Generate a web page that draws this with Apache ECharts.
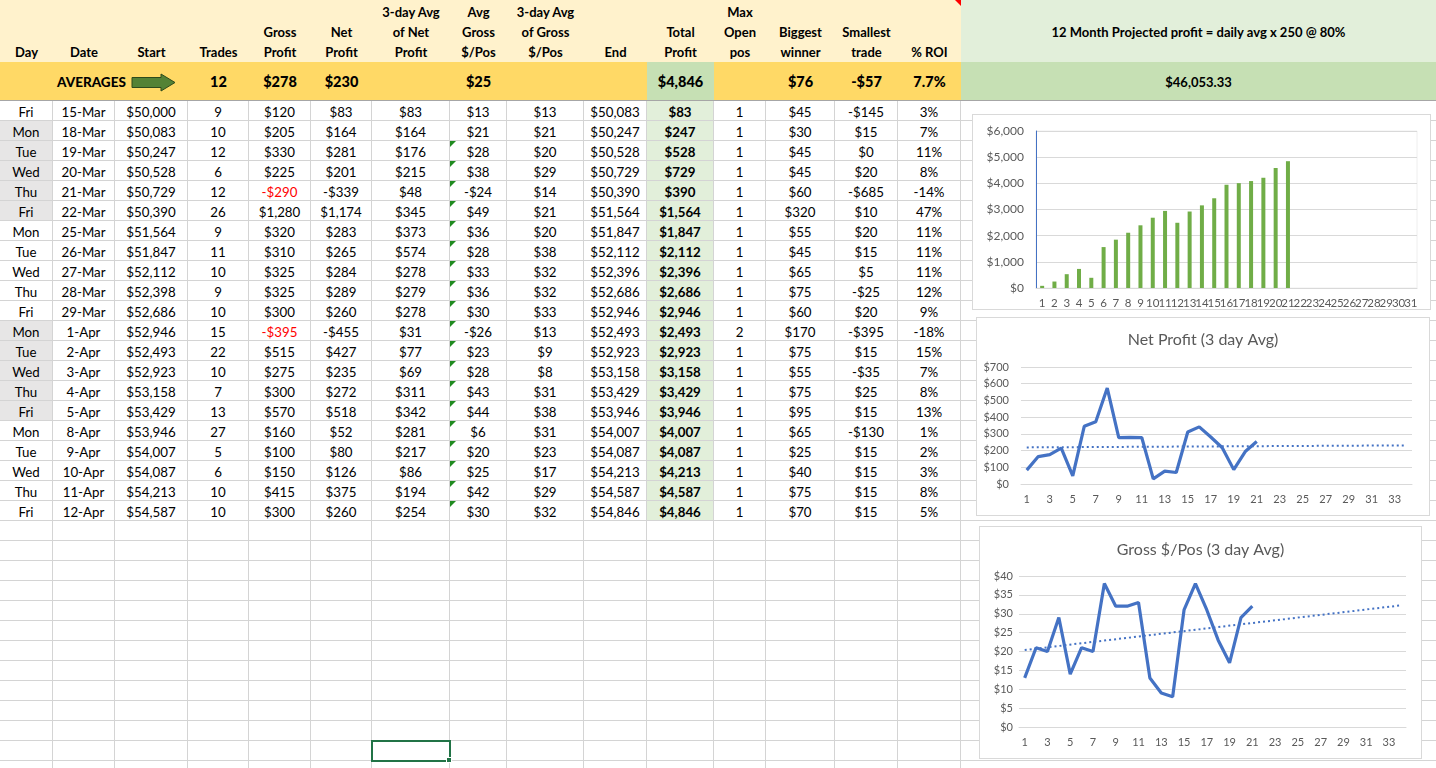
<!DOCTYPE html>
<html>
<head>
<meta charset="utf-8">
<title>Trading log</title>
<script src="https://cdn.jsdelivr.net/npm/echarts@6/dist/echarts.min.js"></script>
<style>
html, body { margin: 0; padding: 0; background: #fff; overflow: hidden; }
#sheet { position: relative; width: 1436px; height: 768px; font-family: Lato, "Open Sans", sans-serif; font-size: 13px; color: #000; }
.c { position: absolute; box-sizing: border-box; text-align: center; white-space: nowrap; }
.chart { position: absolute; box-sizing: border-box; border: 1px solid #d9d9d9; background: #fff; }
.tri { position: absolute; left: 0; top: 0; width: 0; height: 0; border-top: 6px solid #1f8a1f; border-right: 6px solid transparent; }
</style>
</head>
<body>
<div id="sheet">
	<div class="chart" id="chart_total" style="left:972px;top:114px;width:459px;height:196px;"></div>
	<div class="chart" id="chart_net" style="left:976px;top:317px;width:454px;height:199px;"></div>
	<div class="chart" id="chart_gross" style="left:979px;top:526px;width:443px;height:233px;"></div>
</div>
<script>
"use strict";

/*****Data start*****/
var days = ['Fri','Mon','Tue','Wed','Thu','Fri','Mon','Tue','Wed','Thu','Fri','Mon','Tue','Wed','Thu','Fri','Mon','Tue','Wed','Thu','Fri'];
var dates = ['15-Mar','18-Mar','19-Mar','20-Mar','21-Mar','22-Mar','25-Mar','26-Mar','27-Mar','28-Mar','29-Mar',
	'1-Apr','2-Apr','3-Apr','4-Apr','5-Apr','8-Apr','9-Apr','10-Apr','11-Apr','12-Apr'];
var startBal = [50000,50083,50247,50528,50729,50390,51564,51847,52112,52398,52686,52946,52493,52923,53158,53429,53946,54007,54087,54213,54587];
var trades = [9,10,12,6,12,26,9,11,10,9,10,15,22,10,7,13,27,5,6,10,10];
var grossProfit = [120,205,330,225,-290,1280,320,310,325,325,300,-395,515,275,300,570,160,100,150,415,300];
var netProfit = [83,164,281,201,-339,1174,283,265,284,289,260,-455,427,235,272,518,52,80,126,375,260];
var netAvg3 = [83,164,176,215,48,345,373,574,278,279,278,31,77,69,311,342,281,217,86,194,254];
var grossPerPos = [13,21,28,38,-24,49,36,28,33,36,30,-26,23,28,43,44,6,20,25,42,30];
var grossPerPosAvg3 = [13,21,20,29,14,21,20,38,32,32,33,13,9,8,31,38,31,23,17,29,32];
var endBal = [50083,50247,50528,50729,50390,51564,51847,52112,52396,52686,52946,52493,52923,53158,53429,53946,54007,54087,54213,54587,54846];
var totalProfit = [83,247,528,729,390,1564,1847,2112,2396,2686,2946,2493,2923,3158,3429,3946,4007,4087,4213,4587,4846];
var maxOpen = [1,1,1,1,1,1,1,1,1,1,1,2,1,1,1,1,1,1,1,1,1];
var biggestWinner = [45,30,45,45,60,320,55,45,65,75,60,170,75,55,75,95,65,25,40,75,70];
var smallestTrade = [-145,15,0,20,-685,10,20,15,5,-25,20,-395,15,-35,25,15,-130,15,15,15,15];
var roiPct = [3,7,11,8,-14,47,11,11,11,12,9,-18,15,7,8,13,1,2,3,8,5];

var avgTrades = 12, avgGross = 278, avgNet = 230, avgGrossPerPos = 25;
var avgTotal = 4846, avgBiggest = 76, avgSmallest = -57, avgRoi = '7.7%';
var projectedLabel = '12 Month Projected profit = daily avg x 250 @ 80%';
var projectedValue = '$46,053.33';

var headers = ['Day','Date','Start','Trades','Gross<br>Profit','Net<br>Profit','3-day Avg<br>of Net<br>Profit',
	'Avg<br>Gross<br>$/Pos','3-day Avg<br>of Gross<br>$/Pos','End','Total<br>Profit','Max<br>Open<br>pos',
	'Biggest<br>winner','Smallest<br>trade','% ROI'];

// chart categories
var barDays = ['1','2','3','4','5','6','7','8','9','10','11','12','13','14','15','16','17','18','19','20',
	'21','22','23','24','25','26','27','28','29','30','31'];
var lineDays = ['1','2','3','4','5','6','7','8','9','10','11','12','13','14','15','16','17','18','19','20',
	'21','22','23','24','25','26','27','28','29','30','31','32','33','34'];
// dotted trend lines, end points
var netTrend = [['1', 219], ['34', 231]];
var grossTrend = [['1', 20.4], ['34', 32.2]];
/*****Data end*****/

var FONT = 'Lato, "Open Sans", sans-serif';
var colX = [0,53,115,188,249,311,372,450,507,584,647,714,766,835,898,961];
var rightW = 1436 - 961;
var shadedRows = [1,2,3,4,5,11,12,13,14,15];
var GRID = '#d4d4d4';

var money = function(v) {
	var s = '$' + Math.abs(v).toLocaleString('en-US');
	return v < 0 ? '-' + s : s;
};

/*****Sheet function start*****/
var sheet = document.getElementById('sheet');
var firstChart = sheet.firstChild;
var cell = function(x, y, w, h, html, css) {
	var d = document.createElement('div');
	d.className = 'c';
	d.style.left = x + 'px';
	d.style.top = y + 'px';
	d.style.width = w + 'px';
	d.style.height = h + 'px';
	d.innerHTML = html;
	if (css) { for (var k in css) { d.style[k] = css[k]; } }
	sheet.insertBefore(d, firstChart);
	return d;
};

var buildSheet = function() {
	var i, j, w;
	// header row
	for (j = 0; j < headers.length; j++) {
		w = colX[j + 1] - colX[j];
		cell(colX[j], 0, w, 62, headers[j], {
			background: '#FFF2CC', fontWeight: 'bold', lineHeight: '20px',
			display: 'flex', flexDirection: 'column', justifyContent: 'flex-end', paddingBottom: '0px'
		});
	}
	cell(colX[15] - 6, 0, 6, 6, '', {borderTop: '6px solid #ff0000', borderLeft: '6px solid transparent', width: '0px', height: '0px'});
	cell(961, 0, rightW, 62, projectedLabel, {background: '#E2EFDA', fontWeight: 'bold', lineHeight: '64px'});

	// averages row
	var avgCells = {3: avgTrades, 4: money(avgGross), 5: money(avgNet), 7: money(avgGrossPerPos),
		10: money(avgTotal), 12: money(avgBiggest), 13: money(avgSmallest), 14: avgRoi};
	for (j = 0; j < headers.length; j++) {
		w = colX[j + 1] - colX[j];
		cell(colX[j], 62, w, 39, avgCells[j] !== undefined ? String(avgCells[j]) : '', {
			background: j === 10 ? '#C6E0B4' : '#FFD966', fontWeight: '900', fontSize: '14.5px',
			lineHeight: '40px', borderBottom: '1px solid #a6a6a6'
		});
	}
	cell(57, 62, 76, 39, 'AVERAGES', {fontWeight: '900', fontSize: '13.5px', lineHeight: '40px', textAlign: 'left'});
	cell(131, 73, 46, 19,
		'<svg width="46" height="19"><polygon points="1,4.5 30,4.5 30,1 44,9.5 30,18 30,14.5 1,14.5" ' +
		'fill="#548235" stroke="#2e4a1c" stroke-width="1"/></svg>', {lineHeight: '0'});
	cell(961, 62, rightW, 39, projectedValue, {background: '#C6E0B4', fontWeight: 'bold', lineHeight: '40px', borderBottom: '1px solid #a6a6a6'});

	// data rows
	for (i = 0; i < days.length; i++) {
		var y = 101 + i * 20;
		var vals = [days[i], dates[i], money(startBal[i]), trades[i], money(grossProfit[i]), money(netProfit[i]),
			money(netAvg3[i]), money(grossPerPos[i]), money(grossPerPosAvg3[i]), money(endBal[i]),
			money(totalProfit[i]), maxOpen[i], money(biggestWinner[i]), money(smallestTrade[i]), roiPct[i] + '%'];
		for (j = 0; j < vals.length; j++) {
			w = colX[j + 1] - colX[j];
			var css = {lineHeight: '22px', borderRight: '1px solid ' + GRID, borderBottom: '1px solid ' + GRID, fontSize: '13.3px'};
			if (j === 0 && shadedRows.indexOf(i) >= 0) { css.background = '#E7E6E6'; }
			if (j === 10) { css.background = '#E2EFDA'; css.fontWeight = 'bold'; }
			if (j === 4 && grossProfit[i] < 0) { css.color = '#ff0000'; }
			var d = cell(colX[j], y, w, 20, String(vals[j]), css);
			if (j === 7 && i >= 2) {
				var t = document.createElement('div');
				t.className = 'tri';
				d.appendChild(t);
			}
		}
		cell(961, y, rightW, 20, '', {borderBottom: '1px solid ' + GRID});
	}

	// empty rows down to the bottom
	for (var y2 = 101 + days.length * 20; y2 < 768; y2 += 20) {
		for (j = 0; j < headers.length; j++) {
			w = colX[j + 1] - colX[j];
			cell(colX[j], y2, w, 20, '', {borderRight: '1px solid ' + GRID, borderBottom: '1px solid ' + GRID});
		}
		cell(961, y2, rightW, 20, '', {borderBottom: '1px solid ' + GRID});
	}

	// selected cell
	cell(371, 740, 80, 22, '', {border: '2px solid #217346'});
	cell(446, 757, 6, 6, '', {background: '#217346', border: '1px solid #fff'});
};
/*****Sheet function end*****/

/*****E-Charts function start*****/
var axisText = {color: '#595959', fontFamily: FONT, fontSize: 11};

var echartsConfig = function() {
	var eChart_1 = echarts.init(document.getElementById('chart_total'));
	eChart_1.setOption({
		animation: false,
		textStyle: {fontFamily: FONT},
		grid: {left: 63, right: 13, top: 16, bottom: 20, show: true, borderColor: '#eeeeee', borderWidth: 1},
		xAxis: {
			type: 'category',
			data: barDays,
			axisTick: {show: false},
			axisLine: {lineStyle: {color: '#d9d9d9'}},
			axisLabel: Object.assign({interval: 0, margin: 9}, axisText, {fontSize: 11.5})
		},
		yAxis: {
			type: 'value',
			min: 0, max: 6000, interval: 1000,
			axisLine: {show: true, lineStyle: {color: '#4472C4'}},
			axisTick: {show: false},
			axisLabel: Object.assign({margin: 12, formatter: function(v) { return money(v); }}, axisText, {fontSize: 12}),
			splitLine: {lineStyle: {color: '#d9d9d9'}}
		},
		series: [{
			type: 'bar',
			data: totalProfit,
			barWidth: 4,
			itemStyle: {color: '#70AD47'}
		}]
	});

	var lineOption = function(title, values, trend, max, interval, gridLeft, gridRight, labelMargin, titleTop) {
		return {
			animation: false,
			textStyle: {fontFamily: FONT},
			title: {
				text: title, left: 'center', top: titleTop,
				textStyle: {fontFamily: FONT, fontSize: 16, fontWeight: 'normal', color: '#595959'}
			},
			grid: {left: gridLeft, right: gridRight, top: 49, bottom: 31},
			xAxis: {
				type: 'category',
				data: lineDays,
				axisTick: {show: false},
				axisLine: {lineStyle: {color: '#d9d9d9'}},
				axisLabel: Object.assign({interval: 1, margin: 10}, axisText)
			},
			yAxis: {
				type: 'value',
				min: 0, max: max, interval: interval,
				axisLine: {show: false},
				axisTick: {show: false},
				axisLabel: Object.assign({margin: labelMargin, formatter: function(v) { return money(v); }}, axisText),
				splitLine: {lineStyle: {color: '#d9d9d9'}}
			},
			series: [
				{
					type: 'line',
					data: values,
					symbol: 'none',
					lineStyle: {width: 3.2, color: '#4472C4'}
				},
				{
					type: 'line',
					data: trend,
					symbol: 'none',
					lineStyle: {width: 2, color: '#4472C4', type: [2, 3]}
				}
			]
		};
	};

	var eChart_2 = echarts.init(document.getElementById('chart_net'));
	eChart_2.setOption(lineOption('Net Profit (3 day Avg)', netAvg3, netTrend, 700, 100, 44, 17, 12, 9));

	var eChart_3 = echarts.init(document.getElementById('chart_gross'));
	eChart_3.setOption(lineOption('Gross $/Pos (3 day Avg)', grossPerPosAvg3, grossTrend, 40, 5, 39, 15, 6, 10));
};
/*****E-Charts function end*****/

buildSheet();
echartsConfig();
</script>
</body>
</html>
